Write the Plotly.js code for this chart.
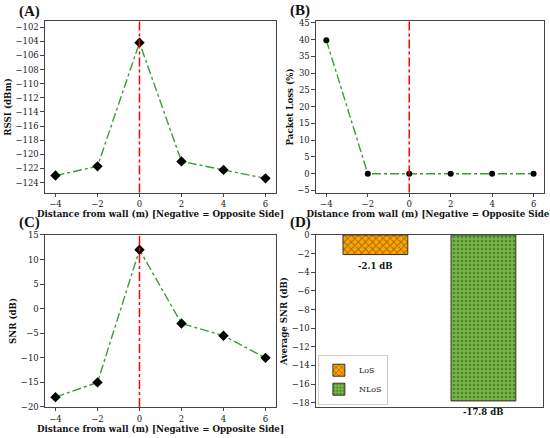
<!DOCTYPE html>
<html><head><meta charset="utf-8">
<script src="https://cdn.plot.ly/plotly-3.0.1.min.js"></script>
<style>html,body{margin:0;padding:0;background:#fff}#plot{width:550px;height:438px}</style>
</head><body><div id="plot"></div>
<script>
const distances = [-4, -2, 0, 2, 4, 6];
const rssi = [-123.0, -121.7, -104.2, -121.0, -122.2, -123.4];
const packetLoss = [39.8, 0, 0, 0, 0, 0];
const snr = [-18, -15, 12, -3, -5.5, -10];
const conditions = ['LoS', 'NLoS'];
const avgSnr = [-2.1, -17.8];
const avgLabels = ['-2.1 dB', '-17.8 dB'];
const wallPosition = [0];

const serif = 'DejaVu Serif, serif';
const lineGreen = '#3a9e32';
const xTitle = 'Distance from wall (m) [Negative = Opposite Side]';

function lineTrace(y, xa, ya, symbol, size) {
  return {x: distances, y: y, xaxis: xa, yaxis: ya, type: 'scatter', mode: 'lines+markers',
    line: {color: lineGreen, width: 1.4, dash: 'dashdot'},
    marker: {color: 'black', symbol: symbol, size: size}, showlegend: false, hoverinfo: 'skip'};
}

const traces = [
  lineTrace(rssi, 'x', 'y', 'diamond', 8),
  lineTrace(packetLoss, 'x2', 'y2', 'circle', 6),
  lineTrace(snr, 'x3', 'y3', 'diamond', 8),
  {x: [0], y: [avgSnr[0]], xaxis: 'x4', yaxis: 'y4', type: 'bar', name: conditions[0], width: 0.6,
   marker: {color: '#ffa500', line: {color: '#333', width: 1},
            pattern: {shape: 'x', fillmode: 'overlay', bgcolor: '#ffa500', fgcolor: '#3d2b00', size: 5, solidity: 0.35}}},
  {x: [1], y: [avgSnr[1]], xaxis: 'x4', yaxis: 'y4', type: 'bar', name: conditions[1], width: 0.6,
   marker: {color: '#76b743', line: {color: '#333', width: 1},
            pattern: {shape: '.', fillmode: 'overlay', bgcolor: '#76b743', fgcolor: '#2a4a18', size: 4, solidity: 0.35}}}
];

const axCommon = {showline: true, mirror: true, linecolor: '#444', linewidth: 1, ticks: 'outside',
  ticklen: 3.5, tickcolor: '#444', showgrid: false, zeroline: false,
  tickfont: {family: serif, size: 8.5, color: '#222'}};
const titleFont = {family: serif, size: 8.7, color: '#111', weight: 'bold'};

function xa(domain, anchor) {
  return Object.assign({}, axCommon, {domain: domain, anchor: anchor, range: [-4.5, 6.5],
    tickvals: distances, title: {text: '<b>' + xTitle + '</b>', font: titleFont, standoff: 0}});
}
function ya(domain, anchor, range, dtick, title) {
  return Object.assign({}, axCommon, {domain: domain, anchor: anchor, range: range, dtick: dtick,
    title: {text: '<b>' + title + '</b>', font: titleFont, standoff: 2}});
}

const xL = [0.0818, 0.5018], xR = [0.5745, 0.989];
const yT = [0.5605, 0.951], yB = [0.0708, 0.4635];

function vline(xref, dom) {
  return {type: 'line', layer: 'above', xref: xref, yref: 'paper',
    x0: wallPosition[0], x1: wallPosition[0], y0: dom[0], y1: dom[1],
    line: {color: 'rgb(255,0,0)', width: 1.5, dash: 'dashdot'}};
}
function panel(label, x, y) {
  return {text: '<b>' + label + '</b>', xref: 'paper', yref: 'paper', x: x, y: y,
    xanchor: 'left', yanchor: 'middle', showarrow: false,
    font: {family: 'Liberation Serif, serif', size: 15, color: '#111'}};
}

const layout = {
  width: 550, height: 438, margin: {l: 0, r: 0, t: 0, b: 0},
  paper_bgcolor: 'white', plot_bgcolor: 'white', bargap: 0,
  xaxis: xa(xL, 'y'), yaxis: ya(yT, 'x', [-125.4, -101.2], 2, 'RSSI (dBm)'),
  xaxis2: xa(xR, 'y2'), yaxis2: ya(yT, 'x2', [-5.6, 45.4], 5, 'Packet Loss (%)'),
  xaxis3: xa(xL, 'y3'), yaxis3: ya(yB, 'x3', [-20, 15], 5, 'SNR (dB)'),
  xaxis4: Object.assign({}, axCommon, {domain: [0.5745, 0.987], anchor: 'y4', range: [-0.55, 1.55],
    showticklabels: false, ticks: ''}),
  yaxis4: ya(yB, 'x4', [-18.45, 0], 2, 'Average SNR (dB)'),
  shapes: [vline('x', yT), vline('x2', yT), vline('x3', yB)],
  annotations: [
    panel('(A)', 0.03, 0.974), panel('(B)', 0.524, 0.975),
    panel('(C)', 0.03, 0.491), panel('(D)', 0.524, 0.491),
    {text: '<b>' + avgLabels[0] + '</b>', xref: 'x4', yref: 'y4', x: 0, y: avgSnr[0], yanchor: 'top',
     yshift: -4, showarrow: false, font: {family: serif, size: 8.5, color: '#111'}},
    {text: '<b>' + avgLabels[1] + '</b>', xref: 'x4', yref: 'y4', x: 1, y: avgSnr[1], yanchor: 'top',
     yshift: -4, showarrow: false, font: {family: serif, size: 8.5, color: '#111'}}
  ],
  legend: {x: 0.578, y: 0.076, xanchor: 'left', yanchor: 'bottom', bgcolor: 'white',
    bordercolor: '#ccc', borderwidth: 1, font: {family: serif, size: 8, color: '#222'},
    itemwidth: 30, tracegroupgap: 0}
};

Plotly.newPlot('plot', traces, layout, {staticPlot: true, displayModeBar: false});
</script></body></html>
